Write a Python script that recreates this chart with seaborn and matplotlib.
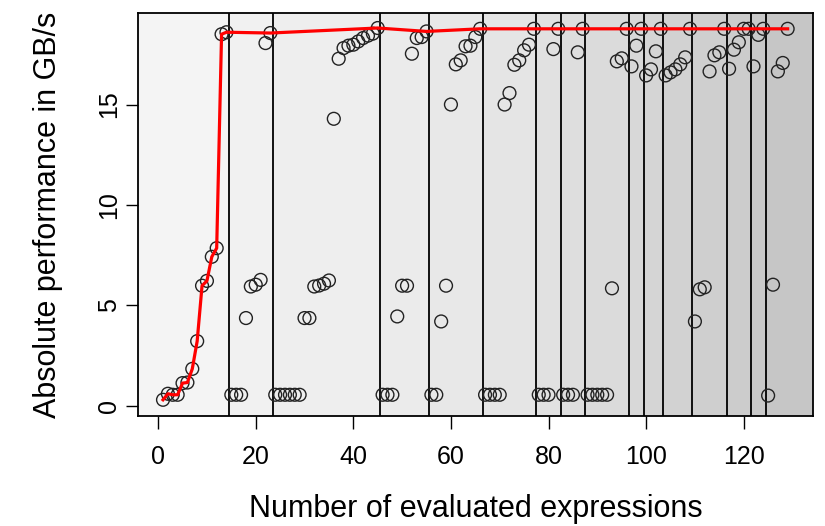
import numpy as np
import matplotlib
matplotlib.use('Agg')
import matplotlib.pyplot as plt
import seaborn as sbn

# Производительность каждого вычисленного выражения (GB/s), x = 1..129
perf = [
    0.3, 0.6, 0.55, 0.55, 1.13, 1.16, 1.84, 3.22, 5.98, 6.22, 7.42, 7.85, 18.5, 18.6,        # 1-14
    0.55, 0.55, 0.55, 4.37, 5.94, 6.03, 6.27, 18.06, 18.56,                                 # 15-23
    0.55, 0.55, 0.55, 0.55, 0.55, 0.55, 4.37, 4.37, 5.94, 5.99, 6.08, 6.24, 14.29,
    17.28, 17.81, 17.93, 17.98, 18.14, 18.31, 18.43, 18.53, 18.81,                          # 24-45
    0.55, 0.55, 0.55, 4.45, 5.98, 5.98, 17.53, 18.31, 18.36, 18.64,                         # 46-55
    0.55, 0.55, 4.2, 5.98, 15.0, 17.0, 17.2, 17.9, 17.93, 18.36, 18.77,                     # 56-66
    0.55, 0.55, 0.55, 0.55, 15.0, 15.57, 16.98, 17.2, 17.7, 17.98, 18.77,                   # 67-77
    0.55, 0.55, 0.55, 17.76, 18.77,                                                         # 78-82
    0.55, 0.55, 0.55, 17.6, 18.77,                                                          # 83-87
    0.55, 0.55, 0.55, 0.55, 0.55, 5.85, 17.15, 17.3, 18.77,                                 # 88-96
    16.9, 17.93, 18.77,                                                                     # 97-99
    16.45, 16.75, 17.65, 18.77,                                                             # 100-103
    16.45, 16.6, 16.75, 17.0, 17.35, 18.77,                                                 # 104-109
    4.2, 5.8, 5.9, 16.65, 17.45, 17.6, 18.77,                                               # 110-116
    16.78, 17.73, 18.1, 18.77, 18.77,                                                       # 117-121
    16.9, 18.47, 18.77,                                                                     # 122-124
    0.51, 6.03, 16.65, 17.07, 18.77,                                                        # 125-129
]
n_expr = list(range(1, len(perf) + 1))

# Последнее выражение каждого раунда (границы серых областей)
round_ends = [14, 23, 45, 55, 66, 77, 82, 87, 96, 99, 103, 109, 116, 121, 124]

# Выражения, через которые проходит красная линия (лучшие результаты)
best_expr = list(range(1, 15)) + [23, 45, 55, 66, 77, 82, 87, 96, 99, 103, 109, 116, 121, 124, 129]
best_perf = [perf[i - 1] for i in best_expr]

plt.rcParams['font.family'] = ['Liberation Sans', 'DejaVu Sans']

fig = plt.figure(figsize=(8.25, 5.26), dpi=100)
ax = fig.add_axes([0.1673, 0.2097, 0.8177, 0.765])

x_lo, x_hi = 1 - 0.04 * 128, 129 + 0.04 * 128
ax.set_xlim(x_lo, x_hi)
ax.set_ylim(0.25 - 0.04 * 18.55, 18.8 + 0.04 * 18.55)

# Серые области раундов, каждая следующая темнее
edges = [x_lo] + [e + 0.5 for e in round_ends] + [x_hi]
greys = np.linspace(0.957, 0.775, len(edges) - 1)
for i in range(len(edges) - 1):
    ax.axvspan(edges[i], edges[i + 1], color=str(greys[i]), lw=0, zorder=0)
for e in round_ends:
    ax.axvline(e + 0.5, color='black', lw=1.3, zorder=1)

sbn.scatterplot(x=n_expr, y=perf, ax=ax, marker='o', s=85, facecolor='none',
                edgecolor='#222222', linewidth=1.0, zorder=3)
sbn.lineplot(x=best_expr, y=best_perf, ax=ax, color='red', lw=2.3, sort=False,
             estimator=None, zorder=4)

ax.set_xticks([0, 20, 40, 60, 80, 100, 120])
ax.set_yticks([0, 5, 10, 15])
ax.tick_params(axis='both', length=9, width=1.0, labelsize=18, color='black')
ax.tick_params(axis='x', pad=12)
ax.tick_params(axis='y', pad=3)
for lbl in ax.get_yticklabels():
    lbl.set_rotation(90)
    lbl.set_va('center')
for sp in ax.spines.values():
    sp.set_linewidth(1.3)
    sp.set_color('black')

ax.set_xlabel('Number of evaluated expressions', fontsize=22, labelpad=18)
ax.set_ylabel('Absolute performance in GB/s', fontsize=22, labelpad=25)

plt.savefig('out.png', dpi=100)
